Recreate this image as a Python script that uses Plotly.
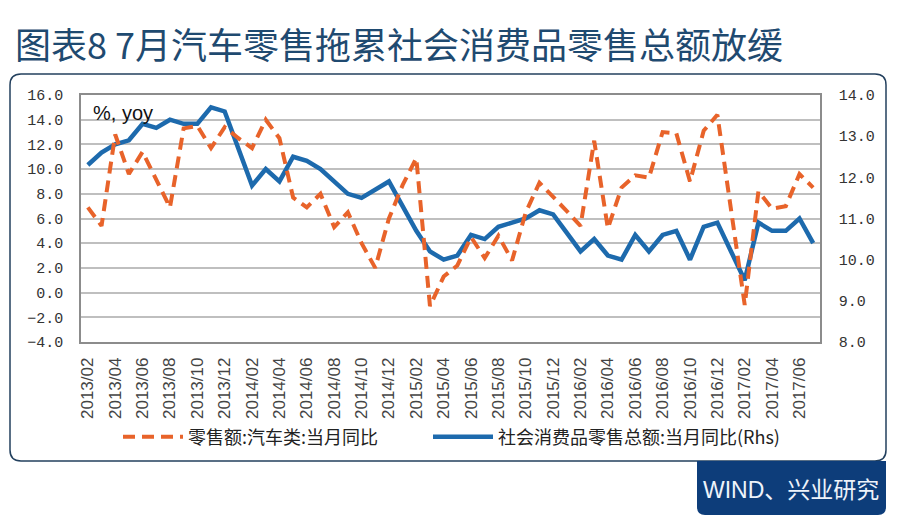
import plotly.graph_objects as go

months = [
    "2013/02", "2013/03", "2013/04", "2013/05", "2013/06", "2013/07", "2013/08", "2013/09", "2013/10", "2013/11", "2013/12",
    "2014/01", "2014/02", "2014/03", "2014/04", "2014/05", "2014/06", "2014/07", "2014/08", "2014/09", "2014/10", "2014/11", "2014/12",
    "2015/01", "2015/02", "2015/03", "2015/04", "2015/05", "2015/06", "2015/07", "2015/08", "2015/09", "2015/10", "2015/11", "2015/12",
    "2016/01", "2016/02", "2016/03", "2016/04", "2016/05", "2016/06", "2016/07", "2016/08", "2016/09", "2016/10", "2016/11", "2016/12",
    "2017/01", "2017/02", "2017/03", "2017/04", "2017/05", "2017/06", "2017/07",
]

auto_retail_yoy = [
    6.9, 5.4, 12.8, 9.6, 11.4, 9.2, 6.9, 13.3, 13.5, 11.7, 13.4,
    12.5, 11.7, 14.0, 12.5, 7.7, 6.9, 8.0, 5.3, 6.5, 4.0, 2.0, 6.0,
    8.7, 10.9, -1.1, 1.3, 2.2, 4.5, 2.8, 4.6, 2.6, 6.5, 8.9, 7.8,
    6.6, 5.4, 12.3, 5.2, 8.5, 9.5, 9.3, 13.0, 12.9, 9.0, 13.1, 14.4,
    6.7, -1.0, 8.2, 6.8, 7.0, 9.6, 8.5,
]

total_retail_yoy = [
    12.3, 12.6, 12.8, 12.9, 13.3, 13.2, 13.4, 13.3, 13.3, 13.7, 13.6,
    12.7, 11.8, 12.2, 11.9, 12.5, 12.4, 12.2, 11.9, 11.6, 11.5, 11.7, 11.9,
    11.3, 10.7, 10.2, 10.0, 10.1, 10.6, 10.5, 10.8, 10.9, 11.0, 11.2, 11.1,
    10.65, 10.2, 10.5, 10.1, 10.0, 10.6, 10.2, 10.6, 10.7, 10.0, 10.8, 10.9,
    10.2, 9.5, 10.9, 10.7, 10.7, 11.0, 10.4,
]

x_tick_labels = [
    "2013/02", "2013/04", "2013/06", "2013/08", "2013/10", "2013/12",
    "2014/02", "2014/04", "2014/06", "2014/08", "2014/10", "2014/12",
    "2015/02", "2015/04", "2015/06", "2015/08", "2015/10", "2015/12",
    "2016/02", "2016/04", "2016/06", "2016/08", "2016/10", "2016/12",
    "2017/02", "2017/04", "2017/06",
]

title_text = "图表8 7月汽车零售拖累社会消费品零售总额放缓"
name_auto = "零售额:汽车类:当月同比"
name_total = "社会消费品零售总额:当月同比(Rhs)"
unit_text = "%, yoy"
source_text = "WIND、兴业研究"

ORANGE = "#E8632A"
BLUE = "#1D6AAD"
GRID = "#BFBFBF"
FRAME = "#8C8C8C"
NAVY = "#0D3D7A"
TITLE_C = "#1F4A70"

W, H = 900, 525
ML, MR, MT, MB = 81, 80, 95, 183
PW = W - ML - MR
PH = H - MT - MB


def fx(X):
    return (X - ML) / PW


def fy(Y):
    return (H - MB - Y) / PH


def rounded_rect(x0, y0, x1, y1, r, corners=(True, True, True, True)):
    tl, tr, br, bl = corners
    p = []
    p.append(f"M{fx(x0 + (r if tl else 0))},{fy(y0)}")
    p.append(f"L{fx(x1 - (r if tr else 0))},{fy(y0)}")
    if tr:
        p.append(f"Q{fx(x1)},{fy(y0)} {fx(x1)},{fy(y0 + r)}")
    p.append(f"L{fx(x1)},{fy(y1 - (r if br else 0))}")
    if br:
        p.append(f"Q{fx(x1)},{fy(y1)} {fx(x1 - r)},{fy(y1)}")
    p.append(f"L{fx(x0 + (r if bl else 0))},{fy(y1)}")
    if bl:
        p.append(f"Q{fx(x0)},{fy(y1)} {fx(x0)},{fy(y1 - r)}")
    p.append(f"L{fx(x0)},{fy(y0 + (r if tl else 0))}")
    if tl:
        p.append(f"Q{fx(x0)},{fy(y0)} {fx(x0 + r)},{fy(y0)}")
    p.append("Z")
    return " ".join(p)


fig = go.Figure()

fig.add_trace(go.Scatter(
    x=months, y=total_retail_yoy, name=name_total, mode="lines",
    line=dict(color=BLUE, width=4.5), yaxis="y", legend="legend2",
))
fig.add_trace(go.Scatter(
    x=months, y=auto_retail_yoy, name=name_auto, mode="lines",
    line=dict(color=ORANGE, width=4, dash="12px,7px"), yaxis="y2", legend="legend",
))

tick_font = dict(family="Liberation Mono, DejaVu Sans Mono, monospace", size=15, color="#333333")

fig.update_layout(
    width=W, height=H,
    margin=dict(l=ML, r=MR, t=MT, b=MB, autoexpand=False),
    paper_bgcolor="white", plot_bgcolor="white",
    xaxis=dict(
        type="category", categoryorder="array", categoryarray=months,
        range=[-0.5, len(months) - 0.5],
        tickmode="array", tickvals=x_tick_labels, ticktext=x_tick_labels,
        tickangle=-90, tickfont=dict(family="Liberation Sans, Arial, sans-serif", size=17, color="#444444"),
        ticks="", showgrid=False, showline=True, mirror=True, linecolor=FRAME, linewidth=1.5,
        ticklabelstandoff=7, zeroline=False, automargin=False,
    ),
    xaxis3=dict(
        overlaying="x", anchor="free", position=0.2, range=[-0.5, len(months) - 0.5],
        tickmode="array", tickvals=[k + 0.5 for k in range(1, len(months) - 1, 2)],
        ticks="outside", ticklen=4, tickcolor="#A6A6A6", tickwidth=1, showticklabels=False,
        showgrid=False, showline=False, zeroline=False, automargin=False,
    ),
    yaxis=dict(
        side="right", range=[8, 14], dtick=1, tickformat=".1f",
        showgrid=False, zeroline=False, ticks="", tickfont=tick_font,
        showline=True, linecolor=FRAME, linewidth=1.5, ticklabelstandoff=14,
        automargin=False,
    ),
    yaxis2=dict(
        overlaying="y", side="left", range=[-4, 16], dtick=2, tickformat=".1f",
        showgrid=True, gridcolor=GRID, gridwidth=1.5, zeroline=False, ticks="",
        tickfont=tick_font, showline=True, linecolor=FRAME, linewidth=1.5,
        ticklabelstandoff=13, automargin=False,
    ),
    legend=dict(
        orientation="h", x=fx(118), y=fy(437), xanchor="left", yanchor="middle",
        font=dict(family="Noto Sans CJK SC", size=18, color="#222222"),
        itemwidth=60, bgcolor="rgba(0,0,0,0)",
    ),
    legend2=dict(
        orientation="h", x=fx(428), y=fy(437), xanchor="left", yanchor="middle",
        font=dict(family="Noto Sans CJK SC", size=18, color="#222222"),
        itemwidth=60, bgcolor="rgba(0,0,0,0)",
    ),
    showlegend=True,
)

fig.add_annotation(
    text=title_text, xref="paper", yref="paper", x=fx(13), y=fy(43),
    xanchor="left", yanchor="middle", showarrow=False,
    font=dict(family="Noto Sans CJK SC", size=36, color=TITLE_C),
)
fig.add_annotation(
    text=unit_text, xref="paper", yref="paper", x=fx(91), y=fy(113),
    xanchor="left", yanchor="middle", showarrow=False,
    font=dict(family="Liberation Sans, Arial, sans-serif", size=20, color="#111111"),
)
fig.add_annotation(
    text=source_text, xref="paper", yref="paper", x=fx(791), y=fy(490),
    xanchor="center", yanchor="middle", showarrow=False,
    font=dict(family="Liberation Sans, Noto Sans CJK SC", size=23, color="#EEF3FA"),
)

fig.add_shape(type="path", xref="paper", yref="paper",
              path=rounded_rect(10, 74, 886, 461, 11),
              line=dict(color="#23405E", width=1.5), fillcolor="rgba(0,0,0,0)", layer="below")
fig.add_shape(type="path", xref="paper", yref="paper",
              path=rounded_rect(697, 461, 886, 515, 8, corners=(False, False, True, True)),
              line=dict(color=NAVY, width=0), fillcolor=NAVY, layer="below")

fig.write_html(
    "out.html",
    config={"displayModeBar": False},
    post_script="document.body.style.margin='0px';document.body.style.overflow='hidden';",
)
